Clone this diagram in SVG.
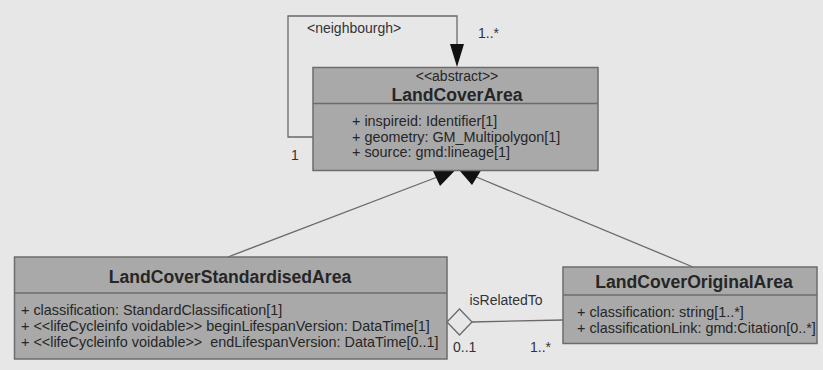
<svg xmlns="http://www.w3.org/2000/svg" width="823" height="370" viewBox="0 0 823 370">
  <style>
    .bg { fill: #e7e7e8; }
    .box { fill: #a9a9a9; stroke: #6c6c6c; stroke-width: 1.5; }
    .sep { stroke: #6c6c6c; stroke-width: 1.5; }
    .title { font-family: "Liberation Sans", Arial, sans-serif; font-size: 17.6px; font-weight: bold; fill: #262626; text-anchor: middle; }
    .stereo { font-family: "Liberation Sans", Arial, sans-serif; font-size: 14px; fill: #262626; text-anchor: middle; }
    .attr { font-family: "Liberation Sans", Arial, sans-serif; font-size: 14.4px; fill: #262626; white-space: pre; }
    .lbl { font-family: "Liberation Sans", Arial, sans-serif; font-size: 14px; fill: #333333; }
    .edge { fill: none; stroke: #6a6a6a; stroke-width: 1.3; }
    .head { fill: #111111; stroke: none; }
    .diamond { fill: #e7e7e8; stroke: #6a6a6a; stroke-width: 1.3; }
  </style>

  <rect class="bg" x="0" y="0" width="823" height="370"/>

  <!-- associations and generalisations -->
  <g id="connectors">
    <!-- neighbourgh self-association -->
    <polyline class="edge" points="313,137 288,137 288,16 457,16 457,44"/>
    <polygon class="head" points="450,44 464,44 457,67"/>
    <text class="lbl" x="307" y="33">&lt;neighbourgh&gt;</text>
    <text class="lbl" x="478" y="38">1..*</text>
    <text class="lbl" x="291" y="160">1</text>

    <!-- generalisation: standardised -> abstract -->
    <line class="edge" x1="228" y1="257" x2="440" y2="176"/>
    <polygon class="head" points="455,170.5 433,171 440,186"/>

    <!-- generalisation: original -> abstract -->
    <line class="edge" x1="693" y1="267" x2="474" y2="176"/>
    <polygon class="head" points="459.5,170.5 481,170.5 472,185"/>

    <!-- isRelatedTo aggregation -->
    <line class="edge" x1="472" y1="322" x2="563" y2="320"/>
    <polygon class="diamond" points="447,322 459.5,309 472,322 459.5,335"/>
    <text class="lbl" x="506" y="305" text-anchor="middle">isRelatedTo</text>
    <text class="lbl" x="453" y="352">0..1</text>
    <text class="lbl" x="530" y="352">1..*</text>
  </g>

  <g id="LandCoverArea">
    <rect class="box" x="313" y="67.5" width="285" height="103"/>
    <line class="sep" x1="313" y1="103.5" x2="598" y2="103.5"/>
    <text class="stereo" x="457" y="81">&lt;&lt;abstract&gt;&gt;</text>
    <text class="title" x="457" y="100.5">LandCoverArea</text>
    <text class="attr" x="352" y="126">+ inspireid: Identifier[1]</text>
    <text class="attr" x="352" y="141.5">+ geometry: GM_Multipolygon[1]</text>
    <text class="attr" x="352" y="157">+ source: gmd:lineage[1]</text>
  </g>

  <g id="LandCoverStandardisedArea">
    <rect class="box" x="14.5" y="257" width="432.5" height="102"/>
    <line class="sep" x1="14.5" y1="293" x2="447" y2="293"/>
    <text class="title" x="230" y="283">LandCoverStandardisedArea</text>
    <text class="attr" x="21" y="315">+ classification: StandardClassification[1]</text>
    <text class="attr" x="21" y="331">+ &lt;&lt;lifeCycleinfo voidable&gt;&gt; beginLifespanVersion: DataTime[1]</text>
    <text class="attr" x="21" y="347">+ &lt;&lt;lifeCycleinfo voidable&gt;&gt;  endLifespanVersion: DataTime[0..1]</text>
  </g>

  <g id="LandCoverOriginalArea">
    <rect class="box" x="563" y="267" width="254" height="76.5"/>
    <line class="sep" x1="563" y1="295" x2="817" y2="295"/>
    <text class="title" x="694" y="287.5">LandCoverOriginalArea</text>
    <text class="attr" x="577" y="316.5">+ classification: string[1..*]</text>
    <text class="attr" x="577" y="332.5">+ classificationLink: gmd:Citation[0..*]</text>
  </g>
</svg>
